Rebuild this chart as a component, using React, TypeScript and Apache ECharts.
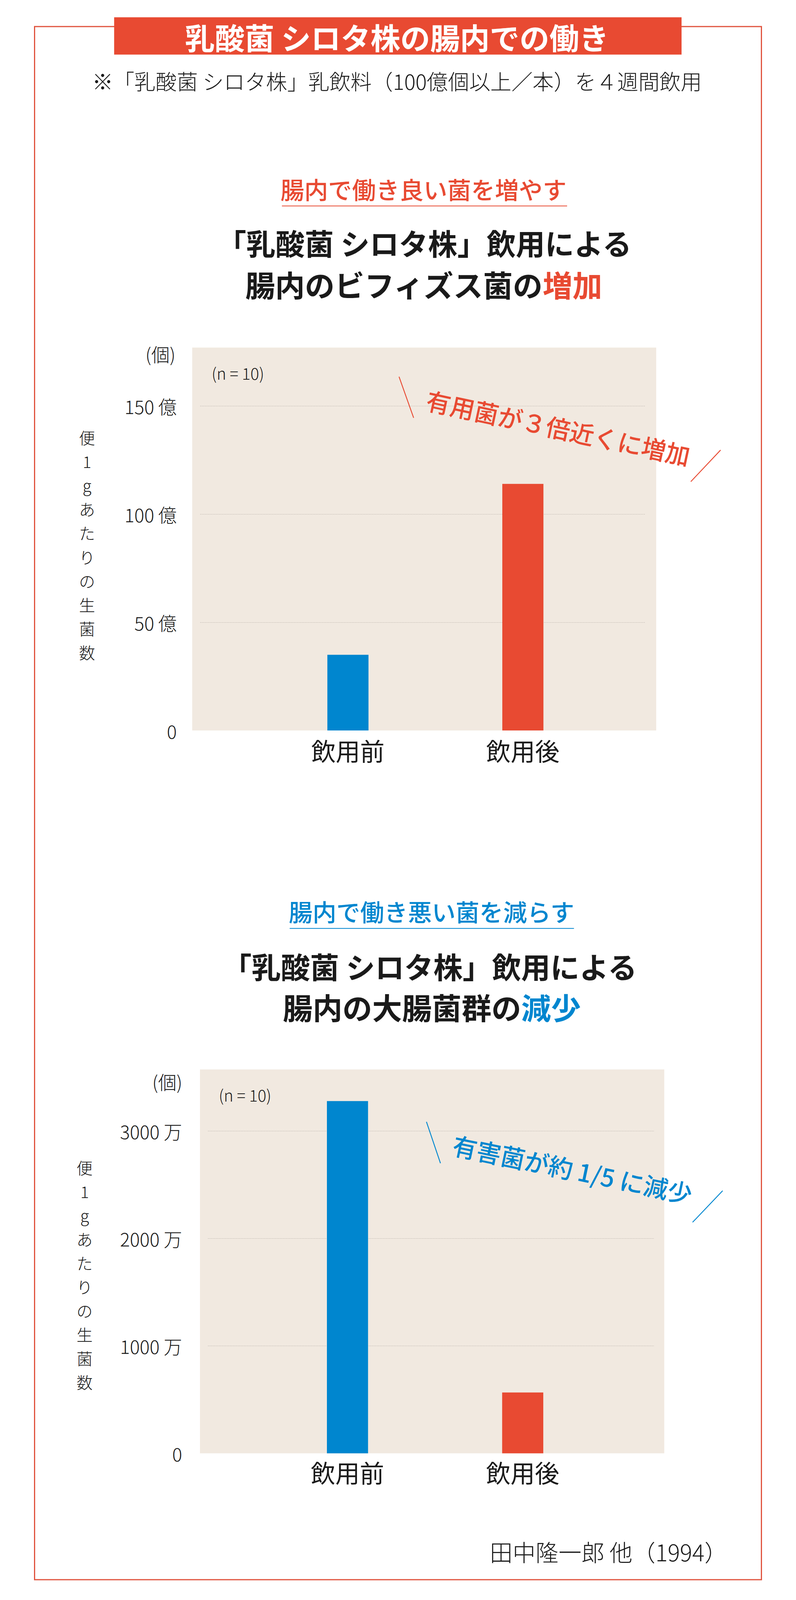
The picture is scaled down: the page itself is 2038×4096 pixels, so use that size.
import React, { useEffect, useRef } from 'react';
import * as echarts from 'echarts';

// ---------- data ----------
const categories = ['飲用前', '飲用後'];
const bifidoValues = [35, 114]; // 億個 / 便1g
const coliformValues = [3280, 566]; // 万個 / 便1g
const barColors = ['#0086CF', '#E84A32'];
const bifidoTicks = [0, 50, 100, 150];
const coliformTicks = [0, 1000, 2000, 3000];
const bifidoUnit = '億';
const coliformUnit = '万';
const bifidoAxisMax = 177;
const coliformAxisMax = 3575;
const yTitleChars = ['便', '1', 'g', 'あ', 'た', 'り', 'の', '生', '菌', '数'];

// ---------- layout (reference pixels, scaled by S) ----------
const S = 0.763;
const FONT = '"Noto Sans CJK JP", "Noto Sans", sans-serif';
const RED = '#E84A32';
const BLUE = '#0086CF';
const INK = '#1a1a1a';

type Panel = {
  bgL: number; bgR: number; top: number; bottom: number;
  lineL: number; lineR: number; barL: number; barR: number;
  labelRight: number; catMargin: number;
};

const panel1: Panel = { bgL: 645, bgR: 2202, top: 1166, bottom: 2451, lineL: 672, lineR: 2166, barL: 874, barR: 2048, labelRight: 593, catMargin: 24 };
const panel2: Panel = { bgL: 671, bgR: 2229, top: 3588, bottom: 4876, lineL: 698, lineR: 2194, barL: 872, barR: 2048, labelRight: 611, catMargin: 21 };

function buildPanel(idx: number, p: Panel, values: number[], ticks: number[], unit: string, max: number) {
  const g0 = idx * 2;
  const g1 = idx * 2 + 1;
  const grids = [
    { left: p.lineL * S, top: p.top * S, width: (p.lineR - p.lineL) * S, height: (p.bottom - p.top) * S, outerBoundsMode: 'none' },
    { left: p.barL * S, top: p.top * S, width: (p.barR - p.barL) * S, height: (p.bottom - p.top) * S, outerBoundsMode: 'none' },
  ];
  const xAxes = [
    { gridIndex: g0, type: 'category', data: categories, show: false },
    {
      gridIndex: g1, type: 'category', data: categories,
      axisLine: { show: false }, axisTick: { show: false },
      axisLabel: { fontSize: 82 * S, fontFamily: FONT, color: INK, margin: p.catMargin * S },
    },
  ];
  const yAxes = [
    {
      gridIndex: g0, type: 'value', min: 0, max, interval: ticks[1] - ticks[0],
      axisLine: { show: false }, axisTick: { show: false },
      axisLabel: {
        fontSize: 62 * S, fontFamily: FONT, color: INK, fontWeight: 300,
        margin: (p.lineL - p.labelRight) * S, showMaxLabel: false,
        formatter: (v: number) => (v === 0 ? '0' : `${v} ${unit}`),
      },
      splitLine: {
        show: true, showMinLine: false, showMaxLine: false,
        lineStyle: { type: [2, 2], color: '#b3aca5', width: 1.2 },
      },
    },
    { gridIndex: g1, type: 'value', min: 0, max, show: false, splitLine: { show: false } },
  ];
  const series = [
    {
      type: 'bar', xAxisIndex: g1, yAxisIndex: g1, barWidth: 138 * S, z: 5,
      data: values.map((v, k) => ({ value: v, itemStyle: { color: barColors[k] } })),
    },
  ];
  return { grids, xAxes, yAxes, series };
}

function txt(x: number, y: number, text: string, size: number, o: any = {}) {
  return {
    type: 'text', x: x * S, y: y * S, z: 20, rotation: o.rot || 0,
    style: {
      text, fontSize: size * S, fontFamily: FONT, fontWeight: o.weight || 'normal',
      fill: o.color || INK, align: o.align || 'center', verticalAlign: 'middle',
    },
  };
}
function ln(x1: number, y1: number, x2: number, y2: number, color: string, w: number) {
  return { type: 'line', z: 20, shape: { x1: x1 * S, y1: y1 * S, x2: x2 * S, y2: y2 * S }, style: { stroke: color, lineWidth: w * S } };
}
function rect(x: number, y: number, w: number, h: number, style: any, z: number) {
  return { type: 'rect', z, shape: { x: x * S, y: y * S, width: w * S, height: h * S }, style };
}
function vertical(cx: number, cy: number, chars: string[], size: number, step: number) {
  const n = chars.length;
  return chars.map((c, i) => txt(cx, cy + (i - (n - 1) / 2) * step, c, size, { weight: 300 }));
}

const deg = (d: number) => (d * Math.PI) / 180;

export default function App() {
  const ref = useRef<HTMLDivElement>(null);
  useEffect(() => {
    document.body.style.margin = '0';
    if (!ref.current) return;
    const chart = echarts.init(ref.current, undefined, { renderer: 'svg' });
    const a = buildPanel(0, panel1, bifidoValues, bifidoTicks, bifidoUnit, bifidoAxisMax);
    const b = buildPanel(1, panel2, coliformValues, coliformTicks, coliformUnit, coliformAxisMax);

    const graphics: any[] = [
      // frame
      rect(116, 89, 2439, 5211, { fill: 'none', stroke: '#E0533D', lineWidth: 3 }, 1),
      // title band
      rect(383, 58, 1904, 125, { fill: RED }, 5),
      txt(1332, 122, '乳酸菌 シロタ株の腸内での働き', 100, { color: '#fff', weight: 'bold' }),
      txt(1332, 271, '※「乳酸菌 シロタ株」乳飲料（100億個以上／本）を４週間飲用', 71, { weight: 300 }),

      // panel 1 heading
      txt(1421, 634, '腸内で働き良い菌を増やす', 80, { color: RED, weight: 500 }),
      ln(946, 691, 1903, 691, RED, 2.5),
      txt(1424, 813, '「乳酸菌 シロタ株」飲用による', 98, { weight: 'bold' }),
      txt(1821, 952, '腸内のビフィズス菌の', 100, { weight: 'bold', align: 'right' }),
      txt(1821, 952, '増加', 100, { weight: 'bold', align: 'left', color: RED }),
      // panel 1 plot decorations
      rect(panel1.bgL, panel1.top, panel1.bgR - panel1.bgL, panel1.bottom - panel1.top, { fill: '#F1E9E0' }, -10),
      txt(589, 1187, '(個)', 62, { align: 'right', weight: 300 }),
      txt(710, 1250, '(n = 10)', 54, { align: 'left', weight: 300 }),
      ...vertical(292, 1827, yTitleChars, 54, 80),
      txt(1874, 1433, '有用菌が３倍近くに増加', 82, { color: RED, weight: 500, rot: deg(-12.1) }),
      ln(1339, 1264, 1388, 1402, RED, 3),
      ln(2418, 1510, 2318, 1616, RED, 3),

      // panel 2 heading
      txt(1448, 3057, '腸内で働き悪い菌を減らす', 80, { color: BLUE, weight: 500 }),
      ln(972, 3115, 1926, 3115, BLUE, 2.5),
      txt(1442, 3240, '「乳酸菌 シロタ株」飲用による', 98, { weight: 'bold' }),
      txt(1749, 3377, '腸内の大腸菌群の', 100, { weight: 'bold', align: 'right' }),
      txt(1749, 3377, '減少', 100, { weight: 'bold', align: 'left', color: BLUE }),
      // panel 2 plot decorations
      rect(panel2.bgL, panel2.top, panel2.bgR - panel2.bgL, panel2.bottom - panel2.top, { fill: '#F1E9E0' }, -10),
      txt(612, 3628, '(個)', 62, { align: 'right', weight: 300 }),
      txt(734, 3672, '(n = 10)', 54, { align: 'left', weight: 300 }),
      ...vertical(284, 4276, yTitleChars, 54, 80),
      txt(1922, 3921, '有害菌が約 1/5 に減少', 82, { color: BLUE, weight: 500, rot: deg(-11.8) }),
      ln(1431, 3764, 1478, 3903, BLUE, 3),
      ln(2425, 3995, 2324, 4101, BLUE, 3),

      // source
      txt(2441, 5205, '田中隆一郎 他（1994）', 77, { align: 'right', weight: 300 }),
    ];

    chart.setOption({
      animation: false,
      backgroundColor: '#ffffff',
      textStyle: { fontFamily: FONT },
      grid: [...a.grids, ...b.grids],
      xAxis: [...a.xAxes, ...b.xAxes],
      yAxis: [...a.yAxes, ...b.yAxes],
      series: [...a.series, ...b.series],
      graphic: { elements: graphics },
    });
    return () => chart.dispose();
  }, []);
  return <div ref={ref} style={{ position: 'absolute', left: 0, top: 0, width: 2038, height: 4096 }} />;
}
